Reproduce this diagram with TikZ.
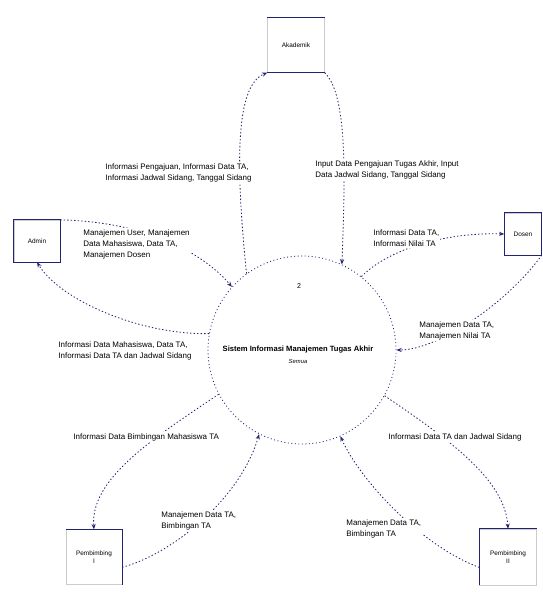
\documentclass[tikz,border=0pt]{standalone}
\usepackage{fontspec}
\setmainfont{Liberation Sans}
\usetikzlibrary{arrows.meta,calc}
\definecolor{navy}{RGB}{35,35,115}

\begin{document}
\begin{tikzpicture}[x=0.03cm,y=-0.03cm,
  entity/.style={draw=black!20,line width=.3pt,inner sep=1pt,align=center,font=\fontsize{5.5}{7}\selectfont},
  edge/.style={draw=navy,line width=.9pt},
  flow/.style={draw=navy,line width=.7pt,dash pattern=on 1.2pt off 1.8pt,-{Stealth[length=4.5pt,width=3.5pt]}},
  lbl/.style={anchor=north west,align=left,fill=white,inner sep=1pt,font=\fontsize{6.8}{9.5}\selectfont}]
\useasboundingbox (0,0) rectangle (543,592);
% external entities
\node[entity,minimum width=1.71cm,minimum height=1.65cm] (akad) at (296,45) {Akademik};
\node[entity,minimum width=1.38cm,minimum height=1.26cm] (admin) at (37,241) {Admin};
\node[entity,minimum width=1.11cm,minimum height=1.26cm] (dosen) at (523,234) {Dosen};
\node[entity,minimum width=1.68cm,minimum height=1.65cm] (pemb1) at (94,557) {Pembimbing\\I};
\node[entity,minimum width=1.71cm,minimum height=1.68cm] (pemb2) at (508,557) {Pembimbing\\II};
\draw[edge] (akad.north west) -- (akad.north east);
\draw[edge] (akad.south west) -- (akad.south east);
\draw[edge] (admin.south west) rectangle (admin.north east);
\draw[edge] (dosen.south west) rectangle (dosen.north east);
\draw[edge] (pemb1.north west) -- (pemb1.north east) -- (pemb1.south east);
\draw[edge] (pemb2.north east) -- (pemb2.north west) -- (pemb2.south west);
% process
\node[circle,draw=navy,line width=.7pt,dash pattern=on .8pt off 2.2pt,minimum size=5.64cm] (proc) at (302,350) {};
\node[font=\fontsize{6}{7}\selectfont] (procnum) at (299,286) {2};
\node[font=\bfseries\fontsize{6.5}{8}\selectfont] (proctitle) at (298,350) {Sistem Informasi Manajemen Tugas Akhir};
\node[font=\itshape\fontsize{5}{6}\selectfont] (procsub) at (298,361) {Semua};
% data flows
\draw[flow] (proc.126) .. controls (235,160) and (236,85) .. (akad.south west);
\draw[flow] (akad.south east) .. controls (348,95) and (345,180) .. (proc.65);
\draw[flow] (admin.north east) .. controls (150,222) and (205,255) .. (proc.138);
\draw[flow] (proc.170) .. controls (140,335) and (60,300) .. (admin.south);
\draw[flow] (proc.51) .. controls (385,252) and (440,232) .. (dosen.west);
\draw[flow] (dosen.south east) .. controls (510,300) and (440,350) .. (proc.east);
\draw[flow] (proc.208) .. controls (150,440) and (90,480) .. (pemb1.north);
\draw[flow] (pemb1.-20) .. controls (170,555) and (240,500) .. (proc.243);
\draw[flow] (pemb2.200) .. controls (420,545) and (360,480) .. (proc.-66);
\draw[flow] (proc.-29) .. controls (450,440) and (505,480) .. (pemb2.north);
% flow labels
\node[lbl] (lblakadout) at (104,162) {Informasi Pengajuan, Informasi Data TA,\\Informasi Jadwal Sidang, Tanggal Sidang};
\node[lbl] (lblakadin) at (314,159) {Input Data Pengajuan Tugas Akhir, Input\\Data Jadwal Sidang, Tanggal Sidang};
\node[lbl] (lbladminin) at (82,228) {Manajemen User, Manajemen\\Data Mahasiswa, Data TA,\\Manajemen Dosen};
\node[lbl] (lbldosenout) at (372,228) {Informasi Data TA,\\Informasi Nilai TA};
\node[lbl] (lbldosenin) at (418,320) {Manajemen Data TA,\\Manajemen Nilai TA};
\node[lbl] (lbladminout) at (57,340) {Informasi Data Mahasiswa, Data TA,\\Informasi Data TA dan Jadwal Sidang};
\node[lbl] (lblpembout) at (72,432) {Informasi Data Bimbingan Mahasiswa TA};
\node[lbl] (lblpembtwoout) at (387,432) {Informasi Data TA dan Jadwal Sidang};
\node[lbl] (lblpembin) at (160,510) {Manajemen Data TA,\\Bimbingan TA};
\node[lbl] (lblpembtwoin) at (345,518) {Manajemen Data TA,\\Bimbingan TA};
\end{tikzpicture}
\end{document}
